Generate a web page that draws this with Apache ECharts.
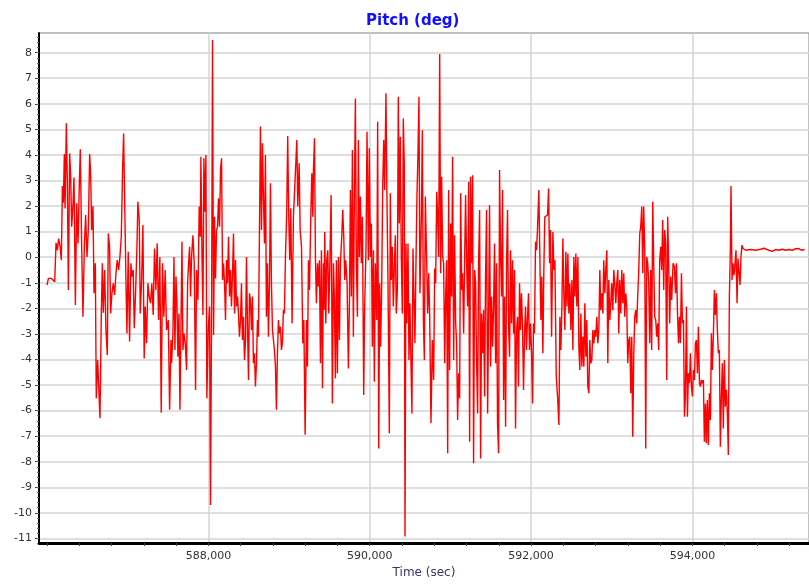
<!DOCTYPE html>
<html><head><meta charset="utf-8">
<script src="https://cdn.jsdelivr.net/npm/echarts@6/dist/echarts.min.js"></script>
<style>html,body{margin:0;padding:0;background:#fff}#c{width:809px;height:585px}</style>
</head><body><div id="c"></div>
<script>
const titleText = 'Pitch (deg)';
const xAxisName = 'Time (sec)';
const xLabelValues = [588000, 590000, 592000, 594000];
const yLabelValues = [-11,-10,-9,-8,-7,-6,-5,-4,-3,-2,-1,0,1,2,3,4,5,6,7,8];

const timeSec = [
586000,586016,586054,586078,586095,586111,586128,586144,586161,586177,
586190,586202,586214,586223,586239,586252,586264,586280,586293,586305,
586322,586334,586351,586367,586384,586400,586412,586429,586445,586462,
586478,586495,586511,586528,586540,586553,586569,586582,586598,586610,
586627,586643,586656,586672,586685,586697,586714,586730,586747,586759,
586775,586788,586804,586821,586837,586854,586870,586887,586903,586920,
586936,586949,586965,586978,586990,587006,587023,587039,587052,587068,
587081,587097,587114,587126,587143,587155,587171,587188,587204,587217,
587233,587250,587266,587283,587299,587316,587332,587349,587365,587382,
587398,587415,587431,587448,587464,587481,
587503,587519,587536,587544,587560,587573,587585,587598,587610,587622,
587635,587647,587659,587672,587684,587697,587713,587729,587742,587754,
587767,587779,587791,587808,587824,587841,587853,587870,587886,587899,
587907,587919,587932,587944,587956,587969,587981,587998,588014,588026,
588039,588051,588064,588076,588088,588101,588113,588125,588138,588150,
588163,588175,588187,588200,588212,588225,588237,588249,588262,588274,
588286,588299,588311,588324,588336,588348,588361,588373,588385,588398,
588410,588422,588435,588447,588460,588472,588484,588497,588509,588521,
588534,588546,588558,588571,588583,588596,588608,588620,588633,588645,
588658,588670,588682,588695,588707,588719,588732,588744,588757,588769,
588781,588794,588806,588818,588831,588843,588855,588868,588880,588893,
588905,588917,588930,588942,588955,588971,588983,588996,589008,589021,
589037,589054,
589096,589108,589125,589137,589154,589170,589183,589199,589216,589228,
589240,589253,589269,589282,589294,589302,589315,589327,589339,589352,
589364,589376,589389,589401,589414,589426,589434,589442,589455,589467,
589480,589492,589504,589521,589537,589550,589562,589574,589587,589599,
589612,589624,589636,589653,589665,589678,589690,589702,589719,589735,
589748,589760,589772,589785,589797,589810,589822,589834,589847,589859,
589871,589884,589896,589909,589925,589937,589954,589966,589983,589995,
590008,590020,590032,590045,590057,590069,590086,590098,590111,590123,
590135,590148,590160,590173,590185,590201,590214,590226,590243,590255,
590267,590280,590292,590304,590317,590329,590342,590354,590366,590379,
590391,590404,590416,590428,590437,590449,590461,590474,590486,590498,
590511,590523,590536,590548,590560,590573,590585,590597,590610,590622,
590640,590652,590665,590677,590689,590706,590718,590731,590743,590759,
590776,590792,590805,590817,590830,590842,590854,590867,590879,590891,
590904,590916,590929,590941,590953,590966,590978,590990,591003,591015,
591027,591040,591052,591065,591077,591089,591102,591114,591127,591139,
591151,591164,591176,591188,591201,591213,591226,591238,591250,591263,
591275,591287,591300,591312,591325,591337,591349,591362,591374,591386,
591399,591411,591424,591436,591448,591461,591473,591485,591498,591510,
591523,591535,591547,591560,591572,591584,591597,591609,591622,591634,
591646,591659,591671,591684,591696,591708,591721,591733,591745,591758,
591770,591783,591795,591807,591820,591832,591844,591857,591869,591881,
591894,591906,591919,591931,591943,591956,591968,591980,591993,592005,
592018,592030,592042,592055,592067,592079,592096,592108,592121,592133,
592146,592158,592170,
592204,592217,592229,592241,592254,592270,592283,592295,592312,592328,
592345,592357,592369,592382,592394,592406,592419,592431,592444,592456,
592468,592481,592493,592506,592518,592530,592543,592555,592567,592580,
592592,592604,592617,592629,592642,592654,592666,592679,592691,592703,
592716,592728,592740,592753,592765,592778,592790,592802,592815,592827,
592840,592852,592864,592877,592889,592901,592914,592926,592939,592951,
592963,592976,592988,593000,593013,593025,593037,593050,593062,593075,
593087,593099,593112,593124,593137,593149,593161,593174,593186,593198,
593211,593223,593236,593248,593260,593273,593285,593297,593310,593322,
593335,593347,593359,593372,593384,593396,593409,593421,593433,593446,
593458,593471,593483,593495,593508,593520,593532,593545,593557,593570,
593582,593594,593607,593619,593631,593644,593656,593668,593681,593693,
593706,593718,593731,593743,593760,
593777,593790,593802,593814,593827,593839,593851,593864,593876,593889,
593901,593913,593926,593938,593950,593963,593975,593988,594000,594012,
594025,594037,594049,594062,594074,594087,594099,594111,594124,594136,
594148,594161,594173,594185,594198,594210,594223,594235,594247,594260,
594272,594284,594297,594309,594321,594334,594346,594359,594371,594383,
594396,594408,594421,594433,594445,594458,594470,594478,594491,594503,
594516,594528,594540,594553,594565,594577,594590,594602,594614,594627,
594660,594722,594784,594846,594887,594949,594990,595031,595072,595114,
595155,595196,595237,595279,595320,595349,595369,595390
];

const pitchDeg = [
-1.09,-0.83,-0.83,-0.76,-0.96,0.56,0.27,0.73,0.41,-0.12,
2.78,2.13,4.04,1.91,5.24,2.76,-1.28,4.06,3.15,1.19,
2.11,3.12,-1.87,2.11,0.54,2.89,4.22,0.41,-2.33,0.41,
1.65,0.01,1.06,4.04,3.28,1.06,2.0,-1.41,-0.24,-5.52,
-4.02,-3.96,-6.3,-2.33,-0.24,-2.17,-0.5,-2.85,-3.83,0.93,
0.41,-2.2,-1.41,-1.02,-1.48,-0.63,-0.11,-0.5,0.01,0.8,
3.41,4.84,1.58,-0.96,-2.98,0.21,-3.3,-0.24,-0.76,-0.5,
-2.78,-1.41,0.41,2.17,1.45,-2.2,-1.02,1.26,-3.96,-1.93,
-3.37,-1.02,-1.54,-1.8,-1.02,-2.26,0.34,-1.28,0.54,-2.46,
0.01,-6.08,-0.24,-2.33,-0.5,-2.85,
-2.46,-5.97,-3.24,-4.15,-2.98,0.01,-3.63,-0.76,-1.8,-3.89,
-2.2,-5.97,-2.98,0.6,-3.63,-2.98,-3.37,-4.41,-1.02,-0.24,
0.41,-1.54,0.01,0.86,-0.24,-5.19,-0.5,-1.67,1.98,0.8,
3.93,0.41,-2.26,3.87,1.78,4.0,-5.52,-2.85,-1.93,-9.69,
-2.33,8.5,-3.04,1.58,-0.83,1.06,1.19,2.3,1.19,3.41,
3.87,-0.89,-0.24,-1.02,-2.46,-0.11,-1.02,0.8,-1.54,-0.5,
-1.93,-0.63,0.93,-2.2,-0.11,-1.93,-1.54,-2.2,-3.11,-2.46,
-1.02,-3.24,-2.33,-4.02,-3.24,0.01,-2.59,-4.8,-1.41,-1.67,
-2.85,-1.54,-4.15,-3.76,-5.06,-4.15,-2.46,-3.11,1.06,5.11,
1.06,4.46,2.37,0.54,4.0,-2.33,-0.24,-3.11,-1.02,2.89,
-0.96,-2.85,-3.24,-3.63,-4.28,-5.97,-3.89,-2.46,-2.98,-2.72,
-3.63,-3.37,-2.07,-2.2,0.01,1.85,4.74,1.58,-0.11,1.91,
-2.59,1.58,
4.58,1.98,3.67,1.06,0.41,-3.37,-2.46,-6.95,-2.46,-4.28,
-0.12,-1.28,1.58,3.28,1.58,3.41,4.65,-0.12,-1.8,-0.24,
-1.15,-0.12,-4.15,0.27,-5.13,-0.24,-2.07,0.99,-2.59,-0.12,
0.27,-2.2,-0.5,2.43,-5.72,-0.24,-1.67,-4.74,-0.12,-4.54,
0.01,-3.24,-0.24,0.8,1.85,0.8,-0.89,-0.12,-1.02,-4.35,
-1.8,2.63,-1.54,4.19,-3.11,2.63,6.21,-0.24,-2.33,4.58,
0.01,2.37,-0.24,1.58,-5.39,-1.93,0.41,4.91,-0.12,4.26,
0.01,1.32,-3.5,0.27,-4.87,-0.24,-2.46,5.3,-7.48,-1.02,
-3.5,-1.15,2.63,4.58,2.63,6.41,2.11,-0.89,-6.89,2.5,
-0.89,0.41,-1.93,-0.5,0.86,-2.2,-1.28,6.28,1.32,4.71,
0.01,-2.2,5.43,3.67,-10.93,0.54,-2.59,0.54,-4.02,-1.8,
-4.15,-6.11,0.34,-1.54,-3.37,-0.24,2.37,3.93,6.28,-1.41,
1.58,4.97,-2.46,-4.02,2.37,-0.24,-2.2,-0.63,-2.33,-6.5,
-3.24,-4.8,-0.44,-1.02,2.56,1.58,0.01,7.95,-0.63,3.15,
0.01,-0.24,-4.15,-1.54,-0.12,-7.67,2.63,-4.41,1.32,-1.54,
3.93,-4.02,0.86,-2.59,-3.37,-6.37,-4.54,-5.52,2.5,-1.28,
-0.63,-2.98,-0.12,2.43,-0.24,-1.93,2.95,-7.22,3.15,-0.24,
3.21,-8.06,-0.5,-1.02,-4.15,-6.11,-0.24,1.85,-7.87,-2.2,
-3.76,-2.07,-5.45,-0.63,1.85,-6.11,-2.46,2.04,-4.28,-1.54,
-3.5,-1.93,0.54,-4.15,-0.24,-6.5,-7.67,3.41,0.01,-1.54,
2.63,-5.59,-1.54,-6.63,-0.24,1.85,-2.72,-3.89,0.27,-2.59,
-0.12,-2.98,-0.5,-6.7,-2.85,-2.33,-5.06,-1.02,-2.85,-1.41,
-2.72,-5.19,-2.98,-1.93,-3.63,-2.33,-1.41,-3.63,-2.59,-3.63,
-5.72,-2.59,-2.98,0.6,0.27,1.06,2.63,2.69,-2.46,-0.76,
-3.76,-0.5,1.58,
1.65,2.69,-0.24,1.06,-3.11,0.99,-0.5,-0.12,-4.67,-5.45,
-6.56,-2.33,-3.63,-1.93,0.73,-1.41,-2.85,0.21,-1.93,0.14,
-2.2,-1.02,-2.85,-0.89,-3.63,0.01,-1.54,0.14,-1.93,0.01,
-3.5,-4.41,-2.2,-4.28,-3.11,-4.28,-1.8,-3.89,-2.46,-5.06,
-5.32,-3.24,-4.15,-4.02,-2.85,-3.37,-2.85,-3.11,-2.33,-3.37,
-2.85,-0.5,-2.07,-1.41,-2.2,-0.12,-1.41,-0.5,0.27,-4.15,
-0.89,-2.46,-1.8,-1.02,-2.07,-0.5,-1.02,-1.8,-1.02,-0.5,
-2.98,-0.89,-2.2,-0.5,-1.8,-0.63,-2.33,-1.41,-1.93,-4.15,
-3.24,-3.11,-5.32,-3.11,-7.02,-3.76,-2.33,-2.07,-2.59,-1.48,
-0.5,0.93,1.19,1.98,-0.63,1.98,0.27,-7.48,0.01,-0.24,
-1.02,-3.37,-0.5,-3.63,2.17,-0.24,-2.33,-2.46,-3.11,-2.59,
-3.63,-0.12,0.41,-0.5,1.45,-1.28,1.06,0.54,-4.8,1.58,
-0.24,-2.59,-0.76,-1.67,-0.24,
-0.37,-1.41,-0.24,-2.07,-3.37,-2.33,-3.37,-0.63,-2.59,-2.46,
-6.24,-5.45,-1.93,-6.24,-4.54,-4.93,-3.76,-5.06,-5.45,-4.41,
-4.8,-3.37,-3.24,-4.54,-2.72,-4.93,-5.06,-4.8,-4.93,-4.8,
-7.22,-5.72,-7.28,-5.59,-7.35,-5.32,-6.37,-2.98,-4.41,-2.98,
-1.28,-2.26,-1.41,-2.85,-3.76,-3.63,-7.41,-5.45,-4.15,-6.7,
-4.02,-5.85,-5.19,-6.11,-7.74,-1.54,0.27,2.78,-0.89,-0.24,
-0.7,-0.24,0.27,-1.8,-0.05,-0.12,-1.09,0.01,0.47,0.34,
0.27,0.3,0.27,0.31,0.35,0.27,0.23,0.3,0.27,0.31,
0.27,0.3,0.27,0.33,0.34,0.27,0.34,0.3
];

const X_MIN = 585900, X_MAX = 595445;
const Y_MIN = -11.18, Y_MAX = 8.77;

const xMinorTicks = [];
for (let v = 586000; v <= 595200; v += 400) xMinorTicks.push(v);
const yMinorTicks = [];
for (let k = -55; k <= 43; k++) yMinorTicks.push(+(k * 0.2).toFixed(1));

if (timeSec.length !== pitchDeg.length) console.error('length mismatch', timeSec.length, pitchDeg.length);
const seriesData = timeSec.map((t, i) => [t, pitchDeg[i]]);

const FONT = 'DejaVu Sans';
const chart = echarts.init(document.getElementById('c'), null, {renderer: 'canvas'});
chart.setOption({
  animation: false,
  backgroundColor: '#ffffff',
  title: {
    text: titleText, left: 361, top: 9,
    textStyle: {color: '#1010ff', fontSize: 15, fontWeight: 'bold', fontFamily: FONT}
  },
  grid: {
    left: 39, right: 0, top: 33, bottom: 42,
    show: true, borderColor: '#808080', borderWidth: 1, backgroundColor: '#ffffff',
    containLabel: false, outerBoundsMode: 'none'
  },
  xAxis: [{
    type: 'value', min: X_MIN, max: X_MAX, position: 'bottom',
    name: xAxisName, nameLocation: 'middle', nameGap: 24,
    nameTextStyle: {color: '#3c3264', fontSize: 12, fontFamily: FONT},
    axisLine: {show: true, onZero: false, lineStyle: {color: '#000', width: 3}},
    axisTick: {show: true, customValues: xMinorTicks, length: 3, lineStyle: {color: '#444', width: 1}},
    axisLabel: {customValues: xLabelValues, margin: 8, color: '#333', fontSize: 11, fontFamily: FONT,
      formatter: v => Number(v).toLocaleString('en-US')},
    splitLine: {show: false}
  }, {
    type: 'value', min: X_MIN, max: X_MAX, position: 'bottom',
    axisLine: {show: false},
    axisTick: {show: false, customValues: xLabelValues},
    axisLabel: {show: false, customValues: xLabelValues},
    splitLine: {show: true, lineStyle: {color: '#d4d4d4', width: 1.5}}
  }],
  yAxis: [{
    type: 'value', min: Y_MIN, max: Y_MAX, position: 'left',
    axisLine: {show: true, onZero: false, lineStyle: {color: '#000', width: 2}},
    axisTick: {show: true, customValues: yLabelValues, length: 4, lineStyle: {color: '#444', width: 1}},
    axisLabel: {customValues: yLabelValues, margin: 7, color: '#333', fontSize: 11, fontFamily: FONT},
    splitLine: {show: true, lineStyle: {color: '#d4d4d4', width: 1.5}}
  }, {
    type: 'value', min: Y_MIN, max: Y_MAX, position: 'left',
    axisLine: {show: false},
    axisTick: {show: true, customValues: yMinorTicks, length: 2, lineStyle: {color: '#666', width: 1}},
    axisLabel: {show: false},
    splitLine: {show: false}
  }],
  series: [{
    type: 'line', xAxisIndex: 0, yAxisIndex: 0,
    data: seriesData, showSymbol: false, symbol: 'none',
    lineStyle: {color: '#ff0000', width: 1.4},
    z: 5
  }]
});
</script>
</body></html>
